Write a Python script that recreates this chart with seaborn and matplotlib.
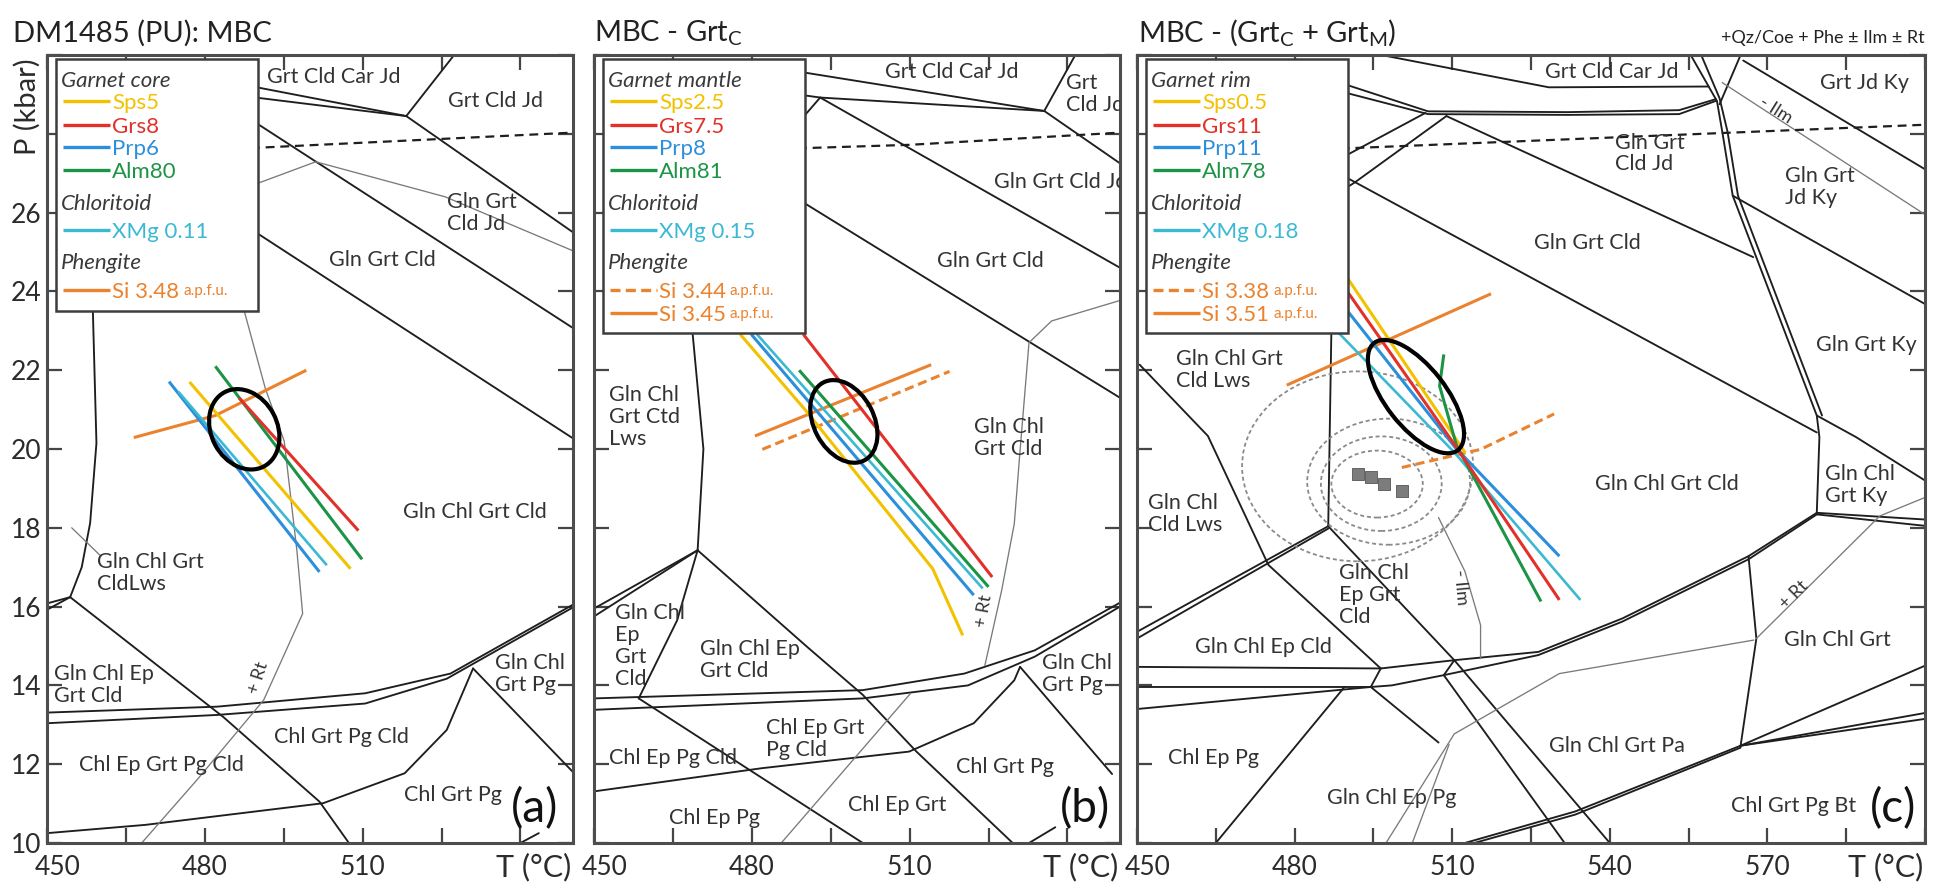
import numpy as np
import pandas as pd
import matplotlib
matplotlib.use("Agg")
import matplotlib.pyplot as plt
import matplotlib.transforms as mtransforms
from matplotlib.patches import Ellipse, Rectangle
import seaborn as sns

sns.set_theme(style="white")
plt.rcParams["font.family"] = ["Lato", "DejaVu Sans"]
plt.rcParams["mathtext.fontset"] = "custom"
plt.rcParams["mathtext.rm"] = "Lato"
plt.rcParams["mathtext.it"] = "Lato:italic"
plt.rcParams["mathtext.bf"] = "Lato:bold"

YELLOW = "#f2c200"
RED = "#e2302a"
BLUE = "#2b8fdb"
GREEN = "#1c9445"
CYAN = "#3bb9d3"
ORANGE = "#ea822e"
INK = "#2b2b2b"
GREY = "#7a7a7a"

# ---------------- panel (a): MBC ----------------
A_SOLID = [
    [(486, 29.28), (518.3, 28.45)],
    [(486, 28.98), (518.3, 28.45)],
    [(518.3, 28.45), (527.4, 30.0)],
    [(518.3, 28.45), (550, 25.5)],
    [(486, 28.6), (550, 23.07)],
    [(486, 25.82), (550, 20.27)],
    [(458.7, 23.6), (459.4, 20.15), (458.2, 18.12), (456.6, 17.0), (454.4, 16.24)],
    [(454.4, 16.24), (450, 15.92)],
    [(454.4, 16.24), (450, 16.08)],
    [(454.4, 16.24), (483.5, 13.2), (501.8, 11.05), (507.4, 10)],
    [(450, 13.31), (482.3, 13.46), (510.5, 13.8), (526.7, 14.3), (550, 16.05)],
    [(450, 13.04), (482.3, 13.25), (510.5, 13.54), (526, 14.17), (550, 15.98)],
    [(450, 10.25), (468.7, 10.46), (502.5, 11.01), (518, 11.77), (526, 12.87), (531, 14.43)],
    [(531, 14.43), (550, 11.8)],
    [(540, 10), (543.5, 10.25)],
]
A_THIN = [
    [(486, 26.55), (489.8, 26.73), (501.1, 27.29), (525.7, 26.4), (550, 25.03)],
    [(487.3, 23.6), (491.5, 21.54), (495.1, 20.2), (497.5, 17.43), (498.6, 15.82),
     (491.2, 13.63), (478.5, 11.6), (468, 10)],
    [(454.7, 18.0), (460.1, 17.3)],
]
A_DASHED = [[(486, 27.62), (550, 28.03)]]

A_SPS = [(477.1, 21.7), (507.7, 16.96)]
A_GRS = [(486.5, 21.3), (509.2, 17.93)]
A_PRP = [(473.2, 21.71), (501.8, 16.88)]
A_ALM = [(482, 22.1), (509.9, 17.2)]
A_XMG = [(475, 21.45), (503.2, 17.05)]
A_SI = [(466.5, 20.29), (482, 20.85), (499.3, 22.0)]
A_PT = (487.5, 20.5)

A_LABELS = [
    ("Grt Cld Car Jd", 504.6, 29.43, "center"),
    ("Grt Cld Jd", 535.2, 28.83, "center"),
    ("Gln Grt\nCld Jd", 526.1, 26.0, "left"),
    ("Gln Grt Cld", 513.7, 24.8, "center"),
    ("Gln Chl Grt Cld", 531.3, 18.4, "center"),
    ("Gln Chl Grt\nCldLws", 459.5, 16.85, "left"),
    ("Gln Chl Ep\nGrt Cld", 451.4, 14.0, "left"),
    ("Chl Ep Grt Pg Cld", 471.8, 11.98, "center"),
    ("Chl Grt Pg Cld", 506.0, 12.7, "center"),
    ("Gln Chl\nGrt Pg", 535.2, 14.28, "left"),
    ("Chl Grt Pg", 527.1, 11.22, "center"),
]
A_TAGS = [("+ Rt", 490.1, 14.2, 72)]
A_KEY = [("Garnet core", None, None), ("Sps5", YELLOW, "-"), ("Grs8", RED, "-"),
         ("Prp6", BLUE, "-"), ("Alm80", GREEN, "-"), ("Chloritoid", None, None),
         ("XMg 0.11", CYAN, "-"), ("Phengite", None, None),
         ("Si 3.48|a.p.f.u.", ORANGE, "-")]

# ---------------- panel (b): MBC - GrtC ----------------
B_SOLID = [
    [(486, 29.64), (535.6, 28.58)],
    [(486, 29.05), (493, 28.92), (535.6, 28.58)],
    [(535.6, 28.58), (541.5, 30.0)],
    [(535.6, 28.58), (550, 27.25)],
    [(493, 28.92), (550, 24.6)],
    [(493, 28.92), (488, 28.15)],
    [(486, 26.57), (550, 21.3)],
    [(468.7, 23.0), (470.8, 20.0), (469.7, 17.43)],
    [(469.7, 17.43), (450, 15.95)],
    [(469.7, 17.43), (450, 15.75)],
    [(469.7, 17.43), (465.8, 15.65), (458.5, 13.67)],
    [(469.7, 17.43), (490.5, 14.98), (501.1, 13.76), (511.3, 12.32), (529.6, 10)],
    [(450, 13.67), (501.1, 13.88), (520.4, 14.3), (533.8, 14.89), (550, 16.1)],
    [(450, 13.38), (501.1, 13.67), (521.1, 14.0), (533.8, 14.73), (550, 16.0)],
    [(458.5, 13.67), (501.1, 10)],
    [(450, 11.31), (482, 11.9), (509.9, 12.32), (522.2, 13.04), (529.9, 14.13), (531, 14.47)],
    [(531, 14.47), (548.5, 11.75)],
    [(532.7, 10), (537.7, 10.4)],
]
B_THIN = [
    [(550, 23.77), (537, 23.25), (532.7, 22.7), (531, 19.96), (529.9, 18.1),
     (527.5, 16.41), (524.3, 14.5)],
    [(485.6, 10), (510.2, 13.8)],
]
B_DASHED = [[(486, 27.62), (510, 27.72), (550, 28.03)]]

B_SPS = [(477.8, 22.91), (490.5, 20.94), (514.4, 16.96), (520.1, 15.27)]
B_GRS = [(489.8, 22.91), (525.7, 16.75)]
B_PRP = [(479.9, 22.91), (522.2, 16.29)]
B_ALM = [(489, 22.0), (525, 16.5)]
B_XMG = [(481, 22.91), (523.9, 16.46)]
B_SI_LOW = [(482, 19.99), (517.6, 21.97)]
B_SI_HIGH = [(480.6, 20.33), (514.1, 22.14)]
B_PT = (497.5, 20.7)

B_LABELS = [
    ("Grt Cld Car Jd", 518.0, 29.56, "center"),
    ("Grt\nCld Jd", 539.8, 29.0, "left"),
    ("Gln Grt Cld Jd", 526.0, 26.77, "left"),
    ("Gln Grt Cld", 525.4, 24.76, "center"),
    ("Gln Chl\nGrt Ctd\nLws", 452.8, 20.82, "left"),
    ("Gln Chl\nGrt Cld", 522.2, 20.28, "left"),
    ("Gln Chl\nEp\nGrt\nCld", 453.9, 15.0, "left"),
    ("Gln Chl Ep\nGrt Cld", 470.1, 14.64, "left"),
    ("Chl Ep Grt\nPg Cld", 482.7, 12.63, "left"),
    ("Chl Ep Pg Cld", 452.8, 12.15, "left"),
    ("Gln Chl\nGrt Pg", 535.2, 14.28, "left"),
    ("Chl Grt Pg", 528.2, 11.94, "center"),
    ("Chl Ep Grt", 507.7, 10.97, "center"),
    ("Chl Ep Pg", 472.9, 10.63, "center"),
]
B_TAGS = [("+ Rt", 524.2, 15.9, 80)]
B_KEY = [("Garnet mantle", None, None), ("Sps2.5", YELLOW, "-"), ("Grs7.5", RED, "-"),
         ("Prp8", BLUE, "-"), ("Alm81", GREEN, "-"), ("Chloritoid", None, None),
         ("XMg 0.15", CYAN, "-"), ("Phengite", None, None),
         ("Si 3.44|a.p.f.u.", ORANGE, "--"), ("Si 3.45|a.p.f.u.", ORANGE, "-")]

# ---------------- panel (c): MBC - (GrtC + GrtM) ----------------
C_SOLID = [
    [(496.5, 30.0), (528.4, 29.18), (558.8, 29.2)],
    [(486, 29.45), (489.5, 29.26), (505.4, 28.57), (532, 28.55), (553.2, 28.6), (560.2, 28.88)],
    [(486, 29.25), (489.5, 29.05), (505.4, 28.5), (532, 28.48), (553.2, 28.5), (560.3, 28.84)],
    [(504.9, 28.53), (490.5, 27.5), (486, 27.2)],
    [(508.9, 28.45), (491.5, 26.77), (486, 26.3)],
    [(508.9, 28.45), (567.3, 24.87)],
    [(486, 27.17), (579.4, 20.42)],
    [(555.4, 30.0), (560.4, 28.83), (561.4, 28.06), (563.4, 26.43), (579.4, 20.85),
     (579.9, 20.3), (579.4, 18.38)],
    [(557.4, 30.0), (560.9, 28.9), (562.4, 28.06), (564.4, 26.43), (580.4, 20.85)],
    [(564.9, 30.0), (560.9, 28.75)],
    [(565.4, 29.86), (600, 27.1)],
    [(563.4, 26.43), (600, 23.68)],
    [(579.4, 20.85), (586.9, 20.3), (600, 19.2)],
    [(579.4, 18.38), (600, 18.21)],
    [(579.4, 18.34), (600, 18.05)],
    [(450, 14.47), (496.4, 14.43), (510.4, 14.64), (526.4, 14.85), (542.4, 15.7),
     (566.4, 17.28), (579.4, 18.38)],
    [(450, 13.96), (494.5, 13.96), (498.5, 14.0), (508.4, 14.26), (526.4, 14.77),
     (542.4, 15.62), (566.4, 17.2), (579.4, 18.34)],
    [(450, 13.4), (494.5, 13.96)],
    [(496.4, 14.43), (494.5, 13.96)],
    [(510.4, 14.64), (508.4, 14.26)],
    [(450, 15.36), (486.4, 18.04)],
    [(450, 15.19), (486.4, 17.98)],
    [(486.4, 18.04), (487, 23.0)],
    [(486.4, 18.04), (510.4, 14.64)],
    [(450.5, 22.14), (463.5, 20.33), (475, 17.06), (496.4, 14.43)],
    [(494.5, 13.96), (507.4, 12.55)],
    [(508.4, 14.26), (531.4, 10)],
    [(510.4, 14.64), (540, 10)],
    [(489.5, 13.96), (465, 10)],
    [(566.4, 17.28), (567.9, 15.19), (564.9, 12.47)],
    [(564.9, 12.47), (600, 14.5)],
    [(564.9, 12.47), (600, 13.3)],
    [(564.9, 12.47), (600, 13.15)],
    [(512.4, 10), (533.4, 10.8), (564.9, 12.47)],
    [(514.2, 10), (533.4, 10.72), (564.9, 12.42)],
]
C_THIN = [
    [(561.4, 29.3), (600, 25.95)],
    [(497.4, 10), (510.4, 12.77), (530.4, 14.3), (567.4, 15.15)],
    [(502.4, 10), (509.4, 12.5)],
    [(507.4, 18.26), (512.4, 16.9), (515.4, 15.53), (515.4, 14.68)],
    [(567.9, 15.19), (591.4, 18.3), (600, 18.77)],
]
C_DASHED = [[(486, 27.61), (600, 28.23)]]

C_SPS = [(489.5, 24.45), (512.5, 19.9)]
C_GRS = [(489.5, 24.1), (510.5, 20.1), (530.4, 16.17)]
C_PRP = [(489.5, 23.6), (510.5, 20.05), (530.4, 17.28)]
C_ALM = [(508.4, 22.4), (507.6, 21.6), (510.8, 20.1), (526.9, 16.13)]
C_XMG = [(488, 23.0), (510.5, 19.9), (534.4, 16.17)]
C_SI_LOW = [(500.4, 19.53), (515.4, 19.99), (529.4, 20.89)]
C_SI_HIGH = [(478.5, 21.62), (517.4, 23.94)]
C_PT = (503.1, 21.33)

# previous P-T estimates: dashed error envelopes and grey squares
RING_T = [495.7, 496.5, 497.9, 492.0]
RING_P = [19.11, 19.12, 19.17, 19.56]
RING_DT = [8.7, 11.5, 15.5, 22.0]
RING_DP = [0.85, 1.2, 1.6, 2.41]
SQ_T = [492.0, 494.5, 497.0, 500.5]
SQ_P = [19.36, 19.28, 19.1, 18.94]

C_LABELS = [
    ("Grt Cld Car Jd", 540.4, 29.56, "center"),
    ("Grt Jd Ky", 588.4, 29.3, "center"),
    ("Gln Grt\nCld Jd", 540.9, 27.5, "left"),
    ("Gln Grt\nJd Ky", 573.4, 26.66, "left"),
    ("Gln Grt Cld", 535.8, 25.23, "center"),
    ("Gln Grt Ky", 588.9, 22.65, "center"),
    ("Gln Chl Grt\nCld Lws", 457.5, 22.0, "left"),
    ("Gln Chl\nCld Lws", 452.0, 18.36, "left"),
    ("Gln Chl Grt Cld", 550.9, 19.1, "center"),
    ("Gln Chl\nGrt Ky", 580.9, 19.08, "left"),
    ("Gln Chl\nEp Grt\nCld", 488.5, 16.3, "left"),
    ("Gln Chl Ep Cld", 474.0, 14.98, "center"),
    ("Gln Chl Grt", 583.4, 15.15, "center"),
    ("Chl Ep Pg", 464.5, 12.17, "center"),
    ("Gln Chl Grt Pa", 541.4, 12.47, "center"),
    ("Gln Chl Ep Pg", 498.5, 11.15, "center"),
    ("Chl Grt Pg Bt", 574.9, 10.94, "center"),
]
C_TAGS = [("- Ilm", 571.6, 28.6, -32), ("- Ilm", 511.6, 16.5, -85), ("+ Rt", 575.0, 16.3, 45)]
C_KEY = [("Garnet rim", None, None), ("Sps0.5", YELLOW, "-"), ("Grs11", RED, "-"),
         ("Prp11", BLUE, "-"), ("Alm78", GREEN, "-"), ("Chloritoid", None, None),
         ("XMg 0.18", CYAN, "-"), ("Phengite", None, None),
         ("Si 3.38|a.p.f.u.", ORANGE, "--"), ("Si 3.51|a.p.f.u.", ORANGE, "-")]

X_LABELS_AB = [450, 480, 510]
X_LABELS_C = [450, 480, 510, 540, 570]
Y_LABELS = [10, 12, 14, 16, 18, 20, 22, 24, 26]

W, H, DPI = 1954, 891, 100
fig = plt.figure(figsize=(W / DPI, H / DPI), dpi=DPI)
fig.patch.set_facecolor("white")

AX_TOP, AX_BOT = 55, 843
def add_panel(left_px, width_px):
    return fig.add_axes([left_px / W, 1 - AX_BOT / H, width_px / W, (AX_BOT - AX_TOP) / H])

ax_a = add_panel(47, 526)
ax_b = add_panel(594, 526)
ax_c = add_panel(1137, 788)

DASH_BLACK = (0, (4, 2.6))
DASH_ORANGE = (0, (3, 1.6))


def paths_frame(paths):
    rows = []
    for i, path in enumerate(paths):
        for t, p in path:
            rows.append((i, t, p))
    return pd.DataFrame(rows, columns=["seg", "T", "P"])


def draw_paths(ax, paths, **kw):
    sns.lineplot(data=paths_frame(paths), x="T", y="P", units="seg", estimator=None,
                 sort=False, ax=ax, legend=False, **kw)


def draw_isopleth(ax, path, color, lw=2.2, ls="-"):
    draw_paths(ax, [path], color=color, lw=lw, linestyle=ls, zorder=3,
               solid_capstyle="butt", dash_capstyle="butt")


def draw_best_fit(ax, centre, w_in, h_in, angle):
    tr = fig.dpi_scale_trans + mtransforms.ScaledTranslation(centre[0], centre[1], ax.transData)
    ax.add_patch(Ellipse((0, 0), w_in, h_in, angle=angle, transform=tr, fill=False,
                         edgecolor="black", lw=3.0, zorder=4))


def px_frac(ax):
    bb = ax.get_position()
    return bb.width * W, bb.height * H


def draw_key(ax, rows, box_bottom):
    wpx, hpx = px_frac(ax)
    fx = lambda v: v / wpx
    fy = lambda v: 1 - v / hpx
    row_y = [24, 46, 70, 92, 115, 147, 175, 206, 235, 258]
    ax.add_patch(Rectangle((fx(9), fy(box_bottom)), fx(202), (box_bottom - 4) / hpx,
                           transform=ax.transAxes, facecolor="white", edgecolor="#3d3d3d",
                           lw=1.8, zorder=10, clip_on=False))
    renderer = fig.canvas.get_renderer()
    for (label, color, ls), y in zip(rows, row_y):
        if color is None:
            ax.text(fx(14), fy(y), label, transform=ax.transAxes, style="italic",
                    color="#3a3a3a", fontsize=16, ha="left", va="center_baseline", zorder=11)
            continue
        ax.plot([fx(16), fx(63)], [fy(y), fy(y)], transform=ax.transAxes, color=color,
                lw=2.4, linestyle=DASH_ORANGE if ls == "--" else "-", zorder=11,
                solid_capstyle="butt", clip_on=False)
        main, _, unit = label.partition("|")
        t = ax.text(fx(65), fy(y), main, transform=ax.transAxes, color=color, fontsize=16,
                    ha="left", va="center_baseline", zorder=11)
        if unit:
            ext = t.get_window_extent(renderer=renderer)
            x_ax = ax.transAxes.inverted().transform((ext.x1 + 4, ext.y0))[0]
            ax.text(x_ax, fy(y), unit, transform=ax.transAxes, color=color, fontsize=11,
                    ha="left", va="center_baseline", zorder=11)


def style_panel(ax, tmax, xlabels, ylabels):
    ax.set_xlim(450, tmax)
    ax.set_ylim(10, 30)
    ax.set_xlabel("")
    ax.set_ylabel("")
    ax.set_xticks(np.arange(450, tmax + 1, 15))
    ax.set_xticklabels([])
    yt = np.arange(10, 31, 2)
    ax.set_yticks(yt)
    if ylabels:
        ax.set_yticklabels([str(v) if v in ylabels else "" for v in yt])
    else:
        ax.set_yticklabels([])
    ax.tick_params(direction="in", length=11, width=1.6, color="#454545",
                   top=True, bottom=True, left=True, right=True,
                   labelsize=19, pad=4, labelcolor=INK)
    for s in ax.spines.values():
        s.set_color("#4d4d4d")
        s.set_linewidth(2.2)
    for v in xlabels:
        dx = 8 if v == 450 else 0
        ax.annotate(str(v), xy=(v, 0), xycoords=("data", "axes fraction"),
                    xytext=(dx, -17.3), textcoords="offset points",
                    ha="center", va="center", fontsize=19, color=INK)
    ax.annotate("T (°C)", xy=(1, 0), xycoords="axes fraction", xytext=(-1, -17.3),
                textcoords="offset points", ha="right", va="center", fontsize=22, color=INK)


def put_labels(ax, labels, tags, letter, letter_pos):
    for text, t, p, ha in labels:
        ax.text(t, p, text, ha=ha, va="center", fontsize=15.5, color="#333333",
                linespacing=1.12, zorder=5, clip_on=True)
    for text, t, p, rot in tags:
        ax.text(t, p, text, ha="center", va="center", fontsize=13, rotation=rot,
                color="#333333", zorder=5)
    ax.text(letter_pos[0], letter_pos[1], letter, ha="center", va="center",
            fontsize=33, color="#111111", zorder=5)


def draw_boundaries(ax, solid, thin, dashed):
    draw_paths(ax, solid, color="#1e1e1e", lw=1.35, zorder=2)
    draw_paths(ax, thin, color=GREY, lw=0.95, zorder=2)
    draw_paths(ax, dashed, color="#1e1e1e", lw=1.6, linestyle=DASH_BLACK, zorder=2)


# ---- panel (a)
draw_boundaries(ax_a, A_SOLID, A_THIN, A_DASHED)
draw_isopleth(ax_a, A_SI, ORANGE)
draw_isopleth(ax_a, A_PRP, BLUE)
draw_isopleth(ax_a, A_XMG, CYAN, lw=1.9)
draw_isopleth(ax_a, A_SPS, YELLOW)
draw_isopleth(ax_a, A_ALM, GREEN)
draw_isopleth(ax_a, A_GRS, RED)
style_panel(ax_a, 550, X_LABELS_AB, Y_LABELS)
draw_best_fit(ax_a, A_PT, 0.84, 0.66, -62)
put_labels(ax_a, A_LABELS, A_TAGS, "(a)", (542.6, 10.86))
draw_key(ax_a, A_KEY, 256)
ax_a.annotate("P (kbar)", xy=(0, 1), xycoords="axes fraction", xytext=(-14.4, -37.4),
              textcoords="offset points", rotation=90, ha="center", va="center",
              fontsize=21, color=INK)

# ---- panel (b)
draw_boundaries(ax_b, B_SOLID, B_THIN, B_DASHED)
draw_isopleth(ax_b, B_SI_HIGH, ORANGE)
draw_isopleth(ax_b, B_SI_LOW, ORANGE, ls=DASH_ORANGE)
draw_isopleth(ax_b, B_SPS, YELLOW)
draw_isopleth(ax_b, B_PRP, BLUE)
draw_isopleth(ax_b, B_XMG, CYAN, lw=1.9)
draw_isopleth(ax_b, B_ALM, GREEN)
draw_isopleth(ax_b, B_GRS, RED)
style_panel(ax_b, 550, X_LABELS_AB, None)
draw_best_fit(ax_b, B_PT, 0.88, 0.60, -62)
put_labels(ax_b, B_LABELS, B_TAGS, "(b)", (543.3, 10.86))
draw_key(ax_b, B_KEY, 278)

# ---- panel (c)
draw_boundaries(ax_c, C_SOLID, C_THIN, C_DASHED)
for t, p, dt, dp in zip(RING_T, RING_P, RING_DT, RING_DP):
    ax_c.add_patch(Ellipse((t, p), 2 * dt, 2 * dp, fill=False, edgecolor="#8a8a8a",
                           lw=1.3, linestyle=(0, (2.2, 1.6)), zorder=3))
sns.scatterplot(x=SQ_T, y=SQ_P, marker="s", s=80, color="#7c7c7c", edgecolor="#555555",
                linewidth=0.6, ax=ax_c, zorder=3, legend=False)
draw_isopleth(ax_c, C_SI_HIGH, ORANGE)
draw_isopleth(ax_c, C_SI_LOW, ORANGE, ls=DASH_ORANGE)
draw_isopleth(ax_c, C_SPS, YELLOW)
draw_isopleth(ax_c, C_PRP, BLUE)
draw_isopleth(ax_c, C_XMG, CYAN, lw=1.9)
draw_isopleth(ax_c, C_ALM, GREEN)
draw_isopleth(ax_c, C_GRS, RED)
style_panel(ax_c, 600, X_LABELS_C, None)
draw_best_fit(ax_c, C_PT, 1.36, 0.60, -52)
put_labels(ax_c, C_LABELS, C_TAGS, "(c)", (593.9, 10.86))
draw_key(ax_c, C_KEY, 278)

# panel titles
fig.text(13 / W, 1 - 42 / H, "DM1485 (PU): MBC", fontsize=21, color="#222222", va="baseline")
fig.text(594 / W, 1 - 42 / H, r"MBC - Grt$_\mathregular{C}$", fontsize=21, color="#222222",
         va="baseline")
fig.text(1138 / W, 1 - 42 / H, r"MBC - (Grt$_\mathregular{C}$ + Grt$_\mathregular{M}$)",
         fontsize=21, color="#222222", va="baseline")
fig.text(1925 / W, 1 - 38 / H, "+Qz/Coe + Phe ± Ilm ± Rt", fontsize=13, color="#222222",
         ha="right", va="center")

fig.savefig("out.png", dpi=DPI, facecolor="white")
